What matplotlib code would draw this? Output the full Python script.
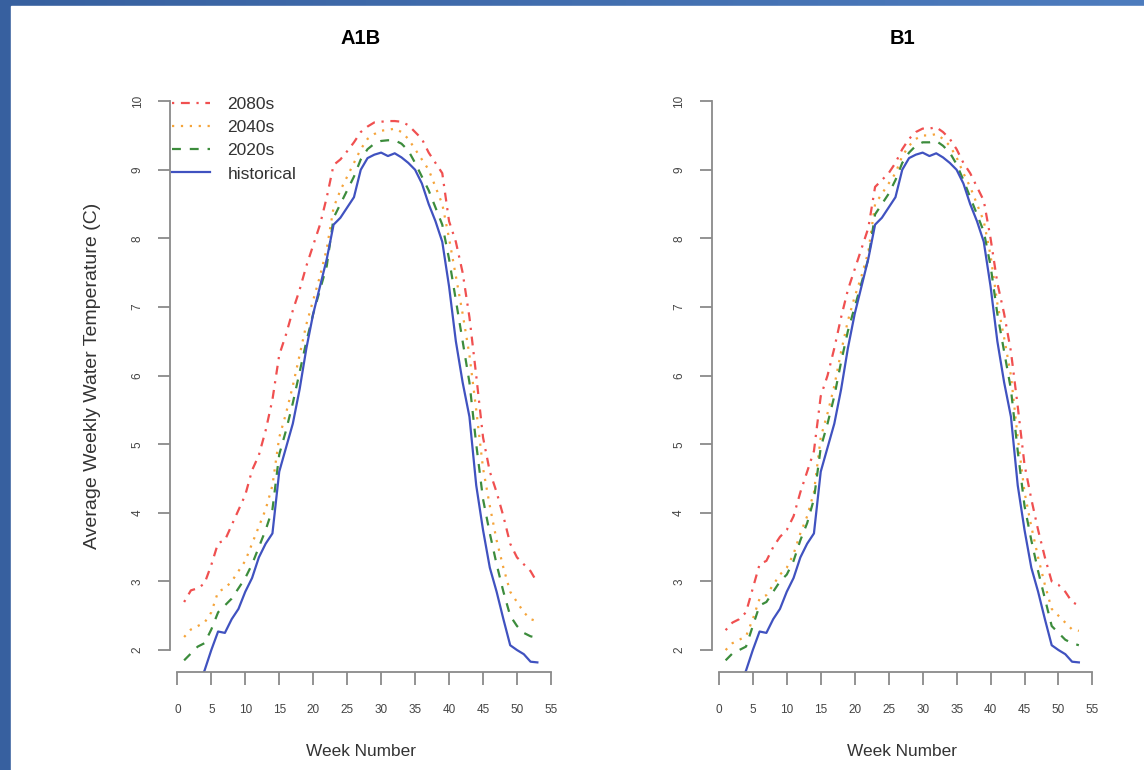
import numpy as np
import matplotlib
matplotlib.use("Agg")
import matplotlib.pyplot as plt
from matplotlib.patches import Rectangle

plt.rcParams['font.family'] = ['Liberation Sans', 'DejaVu Sans']

weeks = np.arange(1, 54)

historical = [1.35, 1.4, 1.5, 1.7, 2.0, 2.27, 2.25, 2.45, 2.6, 2.85,
              3.05, 3.35, 3.55, 3.7, 4.6, 4.95, 5.3, 5.8, 6.4, 6.9,
              7.3, 7.7, 8.2, 8.3, 8.45, 8.6, 9.0, 9.17, 9.22, 9.25,
              9.2, 9.24, 9.18, 9.1, 9.0, 8.8, 8.5, 8.25, 7.95, 7.3,
              6.5, 5.9, 5.4, 4.4, 3.75, 3.2, 2.85, 2.45, 2.07, 2.0,
              1.94, 1.83, 1.82]

a1b_2080s = [2.7, 2.87, 2.9, 2.97, 3.24, 3.56, 3.6, 3.82, 4.04, 4.26,
             4.62, 4.84, 5.2, 5.65, 6.3, 6.6, 6.95, 7.25, 7.6, 7.9,
             8.2, 8.6, 9.07, 9.15, 9.27, 9.4, 9.55, 9.63, 9.69, 9.7,
             9.71, 9.71, 9.7, 9.65, 9.55, 9.45, 9.25, 9.1, 8.95, 8.25,
             7.95, 7.5, 6.85, 6.0, 5.1, 4.6, 4.3, 3.95, 3.55, 3.35,
             3.25, 3.15, 2.98]
a1b_2040s = [2.19, 2.3, 2.35, 2.4, 2.55, 2.85, 2.9, 3.0, 3.15, 3.3,
             3.55, 3.8, 4.05, 4.4, 5.1, 5.45, 5.85, 6.3, 6.75, 7.1,
             7.45, 7.85, 8.45, 8.7, 8.9, 9.1, 9.3, 9.45, 9.52, 9.57,
             9.58, 9.6, 9.55, 9.45, 9.3, 9.15, 9.0, 8.75, 8.5, 8.0,
             7.45, 6.9, 6.3, 5.5, 4.65, 4.1, 3.6, 3.2, 2.85, 2.7,
             2.55, 2.45, 2.42]
a1b_2020s = [1.85, 1.95, 2.05, 2.1, 2.3, 2.55, 2.65, 2.75, 2.9, 3.05,
             3.25, 3.5, 3.75, 4.05, 4.85, 5.2, 5.6, 6.05, 6.5, 6.9,
             7.25, 7.6, 8.3, 8.5, 8.7, 8.9, 9.15, 9.3, 9.38, 9.42,
             9.43, 9.43, 9.38, 9.28, 9.1, 8.9, 8.7, 8.45, 8.2, 7.7,
             7.1, 6.5, 5.9, 5.0, 4.2, 3.7, 3.25, 2.85, 2.5, 2.35,
             2.25, 2.2, 2.18]

b1_2080s = [2.29, 2.4, 2.45, 2.55, 2.9, 3.25, 3.3, 3.5, 3.65, 3.75,
            3.95, 4.3, 4.6, 4.9, 5.7, 6.0, 6.4, 6.85, 7.25, 7.55,
            7.85, 8.15, 8.75, 8.85, 8.95, 9.1, 9.3, 9.45, 9.55, 9.6,
            9.6, 9.62, 9.55, 9.45, 9.3, 9.1, 8.95, 8.75, 8.55, 8.0,
            7.35, 6.9, 6.35, 5.55, 4.7, 4.2, 3.75, 3.35, 3.0, 2.95,
            2.85, 2.7, 2.65]
b1_2040s = [2.0, 2.1, 2.15, 2.2, 2.45, 2.75, 2.8, 2.95, 3.1, 3.2,
            3.4, 3.7, 3.95, 4.3, 5.1, 5.45, 5.85, 6.35, 6.8, 7.15,
            7.45, 7.8, 8.5, 8.65, 8.8, 8.95, 9.2, 9.35, 9.45, 9.5,
            9.5, 9.52, 9.45, 9.35, 9.18, 8.95, 8.75, 8.5, 8.25, 7.75,
            7.05, 6.55, 6.0, 5.1, 4.3, 3.8, 3.35, 2.95, 2.6, 2.5,
            2.4, 2.3, 2.28]
b1_2020s = [1.85, 1.95, 2.0, 2.05, 2.35, 2.65, 2.7, 2.85, 3.0, 3.1,
            3.3, 3.6, 3.85, 4.2, 4.95, 5.3, 5.7, 6.2, 6.65, 7.0,
            7.35, 7.7, 8.35, 8.5, 8.65, 8.85, 9.1, 9.25, 9.35, 9.4,
            9.4, 9.42, 9.35, 9.25, 9.08, 8.85, 8.6, 8.35, 8.1, 7.6,
            6.9, 6.35, 5.8, 4.9, 4.1, 3.6, 3.15, 2.75, 2.35, 2.25,
            2.15, 2.1, 2.07]

labels = ['2080s', '2040s', '2020s', 'historical']
colors = ['#f05050', '#f5a43a', '#3c8c3c', '#4052c0']
styles = [(0, (1, 3, 4, 3)), (0, (1, 3)), (0, (4, 4)), '-']

fig = plt.figure(figsize=(11.44, 7.7), dpi=100)

# blue slide frame behind the white chart area
bg = fig.add_axes([0, 0, 1, 1], zorder=-10)
grad = np.linspace(0, 1, 256).reshape(1, -1)
bg.imshow(grad, aspect='auto', extent=[0, 1, 0, 1],
          cmap=matplotlib.colors.LinearSegmentedColormap.from_list('bl', ['#37609f', '#4d7cbe']))
bg.add_patch(Rectangle((11 / 1144, 0), 1, 1 - 6 / 770, color='white', zorder=2))
bg.set_xlim(0, 1)
bg.set_ylim(0, 1)
bg.axis('off')

panels = [("A1B", [a1b_2080s, a1b_2040s, a1b_2020s, historical], 170),
          ("B1", [b1_2080s, b1_2040s, b1_2020s, historical], 711.5)]

for title, series, left_px in panels:
    ax = fig.add_axes([left_px / 1144, 1 - 672 / 770, 381.5 / 1144, 592.8 / 770])
    for vals, c, ls, lab in zip(series, colors, styles, labels):
        ax.plot(weeks, vals, color=c, linestyle=ls, linewidth=1.6, label=lab)
    ax.set_xlim(-1.08, 55.08)
    ax.set_ylim(1.68, 10.32)
    ax.set_xticks(np.arange(0, 56, 5))
    ax.set_yticks(np.arange(2, 11, 1))
    ax.spines['top'].set_visible(False)
    ax.spines['right'].set_visible(False)
    for s in ['left', 'bottom']:
        ax.spines[s].set_color('#8a8a8a')
        ax.spines[s].set_linewidth(1.3)
    ax.spines['left'].set_bounds(2, 10)
    ax.spines['bottom'].set_bounds(0, 55)
    ax.tick_params(length=9, width=1.3, color='#8a8a8a', labelsize=8.5,
                   labelcolor='#444444')
    ax.tick_params(axis='x', pad=14)
    ax.tick_params(axis='y', pad=10)
    for t in ax.get_yticklabels():
        t.set_rotation(90)
        t.set_va('center')
    ax.set_xlabel("Week Number", fontsize=12.4, color='#333333', labelpad=20)
    ax.set_title(title, fontsize=14.5, fontweight='bold', pad=25)
    if title == "A1B":
        ax.set_ylabel("Average Weekly Water Temperature (C)", fontsize=14,
                      color='#333333', labelpad=22)
        ax.legend(loc='upper left', bbox_to_anchor=(0.005, 0.97), frameon=False,
                  fontsize=12.5, handlelength=2.2, handletextpad=1.0,
                  labelspacing=0.46, borderpad=0, borderaxespad=0,
                  labelcolor='#333333')

fig.savefig("out.png", dpi=100)
